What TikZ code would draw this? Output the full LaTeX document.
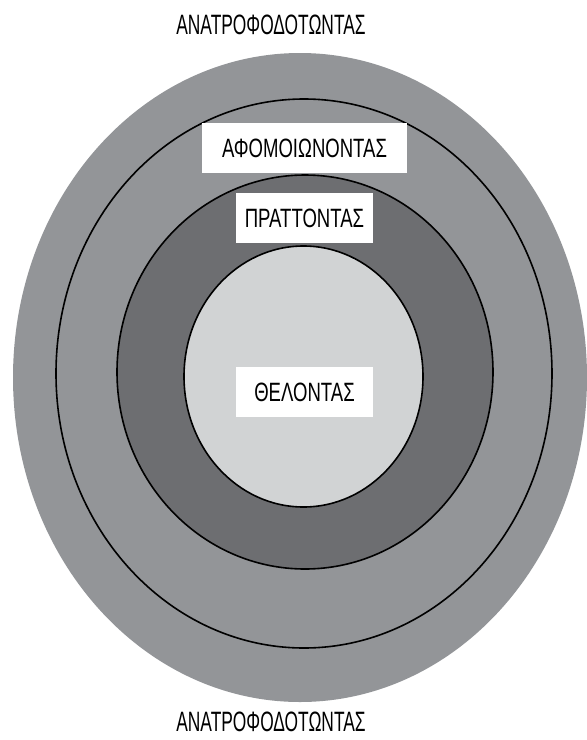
\documentclass[tikz,border=0pt]{standalone}
\usepackage{fontspec}
\usetikzlibrary{shapes.geometric}
\newfontfamily\condA{Liberation Sans}[FakeStretch=0.62]
\newfontfamily\condB{Liberation Sans}[FakeStretch=0.70]
\definecolor{ringouter}{HTML}{939598}
\definecolor{ringdark}{HTML}{6D6E71}
\definecolor{ringlight}{HTML}{D1D3D4}
\tikzset{
  ring/.style={ellipse, inner sep=0pt, line width=1.6pt},
  labelbox/.style={fill=white, inner sep=0pt, minimum height=50pt, font=\condB\fontsize{26.5}{27}\selectfont},
  outerlabel/.style={inner sep=0pt, font=\condA\fontsize{28}{29}\selectfont}
}
\begin{document}
\begin{tikzpicture}[x=1pt, y=-1pt]
\useasboundingbox (0,0) rectangle (587,740);
\node[ring, fill=ringouter, minimum width=574pt, minimum height=649pt] (outer) at (300,377.5) {};
\node[ring, fill=ringouter, draw=black, minimum width=496pt, minimum height=549pt] (assim) at (304,373.5) {};
\node[ring, fill=ringdark, draw=black, minimum width=376pt, minimum height=394pt] (act) at (305,372) {};
\node[ring, fill=ringlight, draw=black, minimum width=239pt, minimum height=261pt] (will) at (303.5,376.5) {};
\node[labelbox, minimum width=205pt] (lassim) at (304.5,148) {ΑΦΟΜΟΙΩΝΟΝΤΑΣ};
\node[labelbox, minimum width=137pt] (lact) at (304.5,218) {ΠΡΑΤΤΟΝΤΑΣ};
\node[labelbox, minimum width=137pt] (lwill) at (304.5,392) {ΘΕΛΟΝΤΑΣ};
\node[outerlabel] (ltop) at (271,25) {ΑΝΑΤΡΟΦΟΔΟΤΩΝΤΑΣ};
\node[outerlabel] (lbottom) at (271,722) {ΑΝΑΤΡΟΦΟΔΟΤΩΝΤΑΣ};
\end{tikzpicture}
\end{document}
